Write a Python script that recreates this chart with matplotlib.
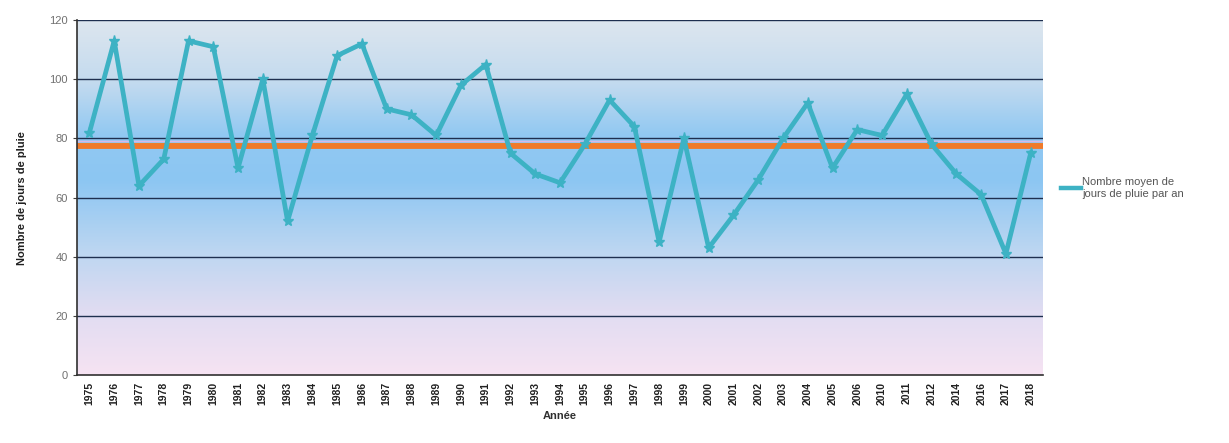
import numpy as np
import matplotlib.pyplot as plt
from matplotlib.colors import LinearSegmentedColormap
from matplotlib.lines import Line2D

annees = [str(a) for a in range(1975, 2007)] + ['2010', '2011', '2012', '2014', '2016', '2017', '2018']
jours_pluie = [82, 113, 64, 73, 113, 111, 70, 100, 52, 81,
               108, 112, 90, 88, 81, 98, 105, 75, 68, 65,
               78, 93, 84, 45, 80, 43, 54, 66, 80, 92,
               70, 83, 81, 95, 78, 68, 61, 41, 75]
moyenne = 77.5

plt.rcParams['font.family'] = ['Liberation Sans', 'DejaVu Sans']

fig = plt.figure(figsize=(12.29, 4.43), dpi=100)
ax = fig.add_axes([0.0627, 0.1535, 0.786, 0.801])

x = np.arange(len(annees))

# fond dégradé vertical (bas rose -> bleu vif -> haut gris-bleu)
fond = LinearSegmentedColormap.from_list('fond', [
    (0.0, '#f6e3f3'), (0.18, '#e0dcf2'), (0.35, '#bcd6f1'),
    (0.55, '#8cc6f3'), (0.68, '#92c9f2'), (0.82, '#c2daef'),
    (1.0, '#dde6ee')])
grad = np.linspace(0, 1, 256).reshape(-1, 1)
ax.imshow(grad, cmap=fond, origin='lower', aspect='auto',
          extent=(-0.5, len(annees) - 0.5, 0, 120), zorder=0)

for y in [20, 40, 60, 80, 100, 120]:
    ax.axhline(y, color='#1e2f4f', lw=1.0, zorder=1)
ax.axhline(79.2, color='#d8b8e8', lw=1.0, zorder=1)
ax.axhline(78.5, color='#c8c060', lw=0.8, zorder=1)
ax.axhline(moyenne, color='#f07a2a', lw=4.2, zorder=2)

ax.plot(x, jours_pluie, color='#3db2c4', lw=3.4, marker='*', markersize=8,
        markerfacecolor='#3db2c4', markeredgecolor='#3db2c4', zorder=3)

ax.set_xlim(-0.5, len(annees) - 0.5)
ax.set_ylim(0, 120)
ax.set_yticks([0, 20, 40, 60, 80, 100, 120])
ax.tick_params(axis='y', labelsize=8, labelcolor='#707070', length=3, color='#404040')
ax.set_xticks(x)
ax.set_xticklabels(annees, rotation=90, fontsize=7.5, fontweight='bold', color='#202020')
ax.tick_params(axis='x', length=0, pad=5)

for s in ['top', 'right']:
    ax.spines[s].set_visible(False)
ax.spines['left'].set_color('#303030')
ax.spines['bottom'].set_color('#303030')
ax.spines['left'].set_linewidth(1.2)
ax.spines['bottom'].set_linewidth(1.2)

ax.set_ylabel('Nombre de jours de pluie', fontsize=8, fontweight='bold', color='#202020', labelpad=16)
ax.set_xlabel('Année', fontsize=8, fontweight='bold', color='#303030', labelpad=4)

poignee = Line2D([0], [0], color='#3db2c4', lw=3.2)
fig.legend([poignee], ['Nombre moyen de\njours de pluie par an'], loc='center left',
           bbox_to_anchor=(0.855, 0.575), frameon=False, fontsize=8,
           handlelength=1.8, handletextpad=0.1, labelcolor='#555555')

fig.savefig('out.png', dpi=100)
